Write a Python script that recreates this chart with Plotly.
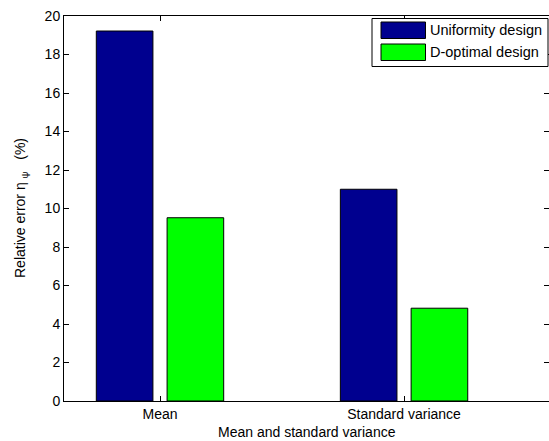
import plotly.graph_objects as go

categories = ["Mean", "Standard variance"]
uniformity = [19.22, 11.0]
d_optimal = [9.52, 4.82]
series_names = ["Uniformity design", "D-optimal design"]
y_ticks = [0, 2, 4, 6, 8, 10, 12, 14, 16, 18, 20]

colors = ["#00008F", "#00FF00"]
FONT = "Liberation Sans, Arial, sans-serif"
FS = 14

W, H = 549, 441
L, R, T, B = 64, 0, 16, 40
pw, ph = W - L - R, H - T - B


def px(x):
    return (x - L) / pw


def py(y):
    return (H - B - y) / ph


fig = go.Figure()
for name, vals, col in zip(series_names, [uniformity, d_optimal], colors):
    fig.add_trace(go.Bar(
        x=categories, y=vals, name=name,
        marker=dict(color=col, line=dict(color="black", width=1)),
        hoverinfo="skip", showlegend=False,
    ))

fig.update_layout(
    width=W, height=H,
    margin=dict(l=L, r=R, t=T, b=B, autoexpand=False),
    paper_bgcolor="white", plot_bgcolor="white",
    barmode="group", bargap=0.42, bargroupgap=0.2,
    font=dict(family=FONT, size=FS, color="black"),
    xaxis=dict(
        type="category", range=[-0.3934, 1.594], automargin=False,
        showline=True, linecolor="black", linewidth=1, mirror="ticks",
        ticks="inside", ticklen=5, tickcolor="black", showgrid=False,
        tickfont=dict(family=FONT, size=FS, color="black"),
    ),
    yaxis=dict(
        range=[0, 20], tickvals=y_ticks, automargin=False,
        showline=True, linecolor="black", linewidth=1, mirror="ticks",
        ticks="inside", ticklen=5, tickcolor="black", showgrid=False,
        zeroline=False,
        tickfont=dict(family=FONT, size=FS, color="black"),
    ),
)

# Axis titles as annotations (MATLAB-like placement)
fig.add_annotation(
    xref="paper", yref="paper", x=px(21), y=py(208),
    text="Relative error η\u00a0<sub>ψ</sub>\u00a0\u00a0\u00a0(%)",
    textangle=-90, showarrow=False, xanchor="center", yanchor="middle",
    font=dict(family=FONT, size=FS, color="black"),
)
fig.add_annotation(
    xref="paper", yref="paper", x=px(306.5), y=py(432),
    text="Mean and standard variance",
    showarrow=False, xanchor="center", yanchor="middle",
    font=dict(family=FONT, size=FS, color="black"),
)

# Custom MATLAB-style legend
fig.add_shape(type="rect", xref="paper", yref="paper",
              x0=px(372), x1=px(548), y0=py(66.5), y1=py(18.5),
              line=dict(color="black", width=1), fillcolor="white", layer="above")
swatches = [(22, 38.5), (44, 60.5)]
for (y0, y1), name, col in zip(swatches, series_names, colors):
    fig.add_shape(type="rect", xref="paper", yref="paper",
                  x0=px(381), x1=px(425.5), y0=py(y1), y1=py(y0),
                  line=dict(color="black", width=1), fillcolor=col, layer="above")
    fig.add_annotation(xref="paper", yref="paper", x=px(428), y=py((y0 + y1) / 2),
                       text=name, showarrow=False, xanchor="left", yanchor="middle",
                       font=dict(family=FONT, size=14.5, color="black"))

fig.write_html("out.html", config={"displayModeBar": False},
               post_script="document.body.style.margin='0';document.body.style.overflow='hidden';")
